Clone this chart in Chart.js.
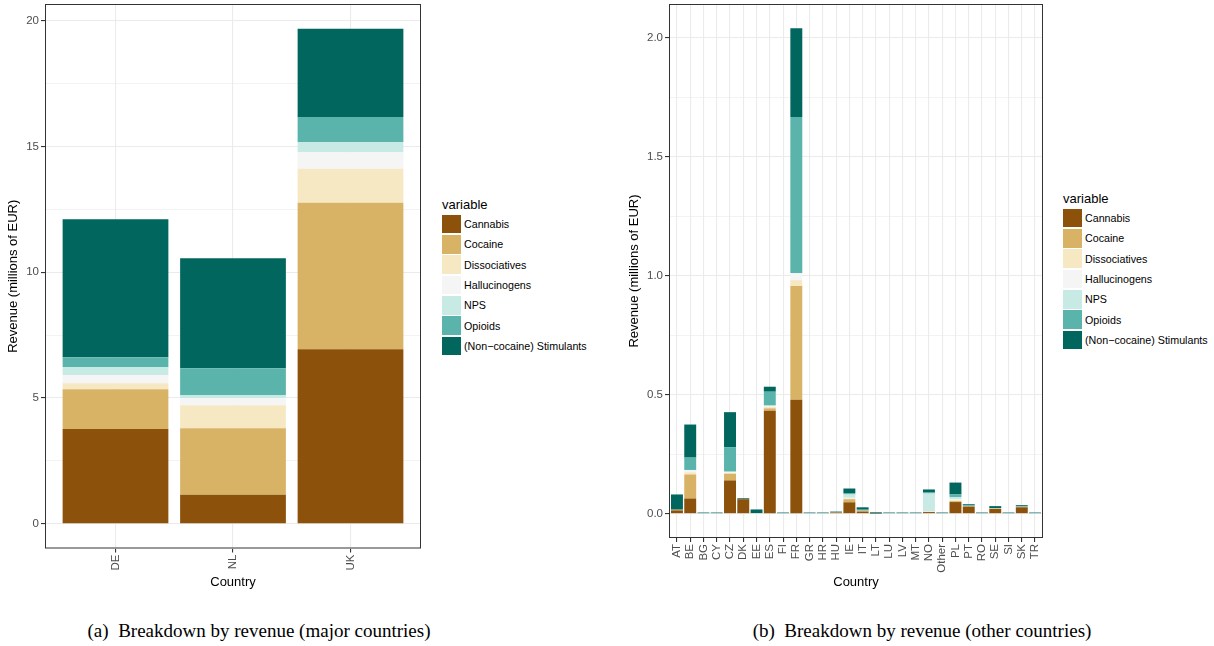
<!DOCTYPE html>
<html>
<head>
<meta charset="utf-8">
<title>Breakdown by revenue</title>
<script src="https://cdn.jsdelivr.net/npm/chart.js@4.4.1/dist/chart.umd.min.js"></script>
<style>
    html, body { margin: 0; padding: 0; background: #fff; }
    body { width: 1214px; height: 646px; position: relative; overflow: hidden;
           font-family: 'Liberation Sans', Arial, sans-serif; }
    canvas { position: absolute; top: 0; }
    #majorChart { left: 0; }
    #otherChart { left: 621px; }
    .legend { position: absolute; color: #000; }
    .legend .title { font-size: 13px; line-height: 15px; margin-bottom: 2px; }
    .legend .item { display: flex; align-items: center; height: 20.3px; font-size: 10.7px; }
    .legend .key { width: 19px; height: 18.7px; margin-right: 3px; }
    #majorLegend { left: 442px; top: 197px; }
    #otherLegend { left: 1063px; top: 191px; }
    .caption { position: absolute; top: 620px; line-height: 22px; white-space: pre;
               font-family: 'Liberation Serif', 'Times New Roman', serif; font-size: 19px;
               transform: translateX(-50%); color: #000; }
</style>
</head>
<body>
<canvas id="majorChart" width="425" height="600"></canvas>
<div class="legend" id="majorLegend"></div>
<canvas id="otherChart" width="426" height="600"></canvas>
<div class="legend" id="otherLegend"></div>
<div class="caption" style="left:259px">(a)  Breakdown by revenue (major countries)</div>
<div class="caption" style="left:922px">(b)  Breakdown by revenue (other countries)</div>

<script>
// Drug categories (stacked bottom to top) and BrBG palette
const drugNames = ['Cannabis', 'Cocaine', 'Dissociatives', 'Hallucinogens', 'NPS', 'Opioids', '(Non\u2212cocaine) Stimulants'];
const drugColors = ['#8C510A', '#D8B365', '#F6E8C3', '#F5F5F5', '#C7EAE5', '#5AB4AC', '#01665E'];

// (a) major countries, millions of EUR
const majorCountries = ['DE', 'NL', 'UK'];
const majorCannabis      = [3.77, 1.15, 6.94];
const majorCocaine       = [1.58, 2.65, 5.82];
const majorDissociatives = [0.24, 0.91, 1.35];
const majorHallucinogens = [0.32, 0.29, 0.66];
const majorNps           = [0.32, 0.12, 0.40];
const majorOpioids       = [0.39, 1.06, 1.00];
const majorStimulants    = [5.49, 4.38, 3.51];
const majorYTicks = [0, 5, 10, 15, 20];
const majorYMinor = [2.5, 7.5, 12.5, 17.5];

// (b) other countries, millions of EUR
const otherCountries = ['AT', 'BE', 'BG', 'CY', 'CZ', 'DK', 'EE', 'ES', 'FI', 'FR', 'GR', 'HR', 'HU', 'IE',
                        'IT', 'LT', 'LU', 'LV', 'MT', 'NO', 'Other', 'PL', 'PT', 'RO', 'SE', 'SI', 'SK', 'TR'];
const otherCannabis      = [0.014, 0.064, 0, 0, 0.140, 0.061, 0, 0.433, 0, 0.479, 0, 0, 0.005, 0.048,
                            0.009, 0.001, 0, 0, 0, 0.007, 0, 0.049, 0.030, 0, 0.020, 0, 0.027, 0];
const otherCocaine       = [0.003, 0.101, 0, 0, 0.028, 0, 0, 0.010, 0, 0.478, 0, 0, 0.001, 0.013,
                            0.004, 0, 0, 0, 0, 0.001, 0, 0.004, 0.002, 0, 0.002, 0, 0.002, 0];
const otherDissociatives = [0, 0.009, 0, 0, 0.004, 0, 0, 0.006, 0, 0.025, 0, 0, 0, 0.003,
                            0, 0, 0, 0, 0, 0, 0, 0.004, 0, 0, 0, 0, 0, 0];
const otherHallucinogens = [0, 0.008, 0, 0, 0.003, 0, 0, 0.004, 0, 0.028, 0, 0, 0, 0.003,
                            0, 0, 0, 0, 0, 0.003, 0, 0.004, 0, 0, 0.001, 0, 0, 0];
const otherNps           = [0, 0.002, 0, 0, 0.002, 0, 0, 0.002, 0, 0.002, 0, 0, 0, 0.014,
                            0, 0, 0, 0, 0, 0.074, 0, 0.009, 0, 0, 0, 0, 0, 0];
const otherOpioids       = [0, 0.052, 0, 0, 0.103, 0, 0.003, 0.058, 0, 0.656, 0, 0, 0, 0.006,
                            0.004, 0, 0, 0, 0, 0.004, 0, 0.011, 0.004, 0, 0, 0, 0.003, 0];
const otherStimulants    = [0.064, 0.139, 0.005, 0.005, 0.147, 0.004, 0.015, 0.021, 0.005, 0.373, 0.005, 0.005, 0.003, 0.019,
                            0.010, 0.005, 0.005, 0.005, 0.005, 0.013, 0.005, 0.050, 0.004, 0.005, 0.009, 0.005, 0.004, 0.005];
const otherYTicks = [0, 0.5, 1.0, 1.5, 2.0];
const otherYMinor = [0.25, 0.75, 1.25, 1.75];

Chart.defaults.font.family = "'Liberation Sans', Arial, sans-serif";
Chart.defaults.color = '#4D4D4D';
Chart.defaults.animation = false;

const gridColor = '#EBEBEB';
const darkLine = '#333333';

// ggplot-style panel border around the plotting area
const panelBorder = {
    id: 'panelBorder',
    afterDatasetsDraw(chart) {
        const { ctx, chartArea: a } = chart;
        ctx.save();
        ctx.strokeStyle = darkLine;
        ctx.lineWidth = 1;
        ctx.strokeRect(a.left + 0.5, a.top + 0.5, a.right - a.left - 1, a.bottom - a.top - 1);
        ctx.restore();
    }
};

function buildDatasets(series) {
    return series.map((values, k) => ({
        label: drugNames[k],
        data: values.map((v, i) => ({ x: i, y: v })),
        backgroundColor: drugColors[k],
        borderWidth: 0,
        barPercentage: 0.9,
        categoryPercentage: 1.0
    }));
}

function buildLegend(id) {
    const box = document.getElementById(id);
    let html = '<div class="title">variable</div>';
    drugNames.forEach((name, k) => {
        html += '<div class="item"><span class="key" style="background:' + drugColors[k] + '"></span>' + name + '</div>';
    });
    box.innerHTML = html;
}

function makePanel(canvasId, countries, series, yTicks, yMinor, decimals, yAxisWidth, xAxisHeight) {
    // stack totals give the ggplot-like 5% expansion
    const totals = countries.map((_, i) => series.reduce((s, arr) => s + arr[i], 0));
    const top = Math.max(...totals);
    const allYTicks = yTicks.concat(yMinor).sort((a, b) => a - b);
    const isMajor = v => yTicks.some(t => Math.abs(t - v) < 1e-9);

    new Chart(document.getElementById(canvasId).getContext('2d'), {
        type: 'bar',
        data: { datasets: buildDatasets(series) },
        plugins: [panelBorder],
        options: {
            responsive: false,
            layout: { padding: { top: 4, right: 4, left: 0, bottom: 0 } },
            plugins: {
                legend: { display: false },
                tooltip: { enabled: false }
            },
            scales: {
                x: {
                    type: 'linear',
                    stacked: true,
                    offset: false,
                    bounds: 'data',
                    min: -0.6,
                    max: countries.length - 0.4,
                    afterBuildTicks: s => { s.ticks = countries.map((_, i) => ({ value: i })); },
                    afterFit: s => { s.height = xAxisHeight; s.paddingLeft = 0; s.paddingRight = 0; },
                    border: { display: false },
                    grid: { offset: false, color: gridColor, lineWidth: 1.1, tickColor: darkLine, tickLength: 4 },
                    ticks: {
                        autoSkip: false,
                        minRotation: 90,
                        maxRotation: 90,
                        padding: 2,
                        color: '#4D4D4D',
                        font: { size: 11.5 },
                        callback: v => countries[v]
                    },
                    title: {
                        display: true,
                        text: 'Country',
                        color: '#000',
                        font: { size: 13 },
                        padding: { top: 0, bottom: 10 }
                    }
                },
                y: {
                    stacked: true,
                    bounds: 'data',
                    min: -0.05 * top,
                    max: 1.05 * top,
                    afterBuildTicks: s => { s.ticks = allYTicks.map(v => ({ value: v })); },
                    afterFit: s => { s.width = yAxisWidth; s.paddingTop = 0; s.paddingBottom = 0; },
                    border: { display: false },
                    grid: {
                        color: gridColor,
                        lineWidth: ctx => (ctx.tick && isMajor(ctx.tick.value) ? 1.1 : 0.6),
                        tickColor: ctx => (ctx.tick && isMajor(ctx.tick.value) ? darkLine : 'rgba(0,0,0,0)'),
                        tickLength: 4
                    },
                    ticks: {
                        padding: 2,
                        color: '#4D4D4D',
                        font: { size: 11.5 },
                        callback: v => (isMajor(v) ? v.toFixed(decimals) : '')
                    },
                    title: {
                        display: true,
                        text: 'Revenue (millions of EUR)',
                        color: '#000',
                        font: { size: 13 },
                        padding: { top: 6, bottom: 0 }
                    }
                }
            }
        }
    });
}

makePanel('majorChart', majorCountries,
    [majorCannabis, majorCocaine, majorDissociatives, majorHallucinogens, majorNps, majorOpioids, majorStimulants],
    majorYTicks, majorYMinor, 0, 45, 51.5);

makePanel('otherChart', otherCountries,
    [otherCannabis, otherCocaine, otherDissociatives, otherHallucinogens, otherNps, otherOpioids, otherStimulants],
    otherYTicks, otherYMinor, 1, 48, 62);

buildLegend('majorLegend');
buildLegend('otherLegend');
</script>
</body>
</html>
